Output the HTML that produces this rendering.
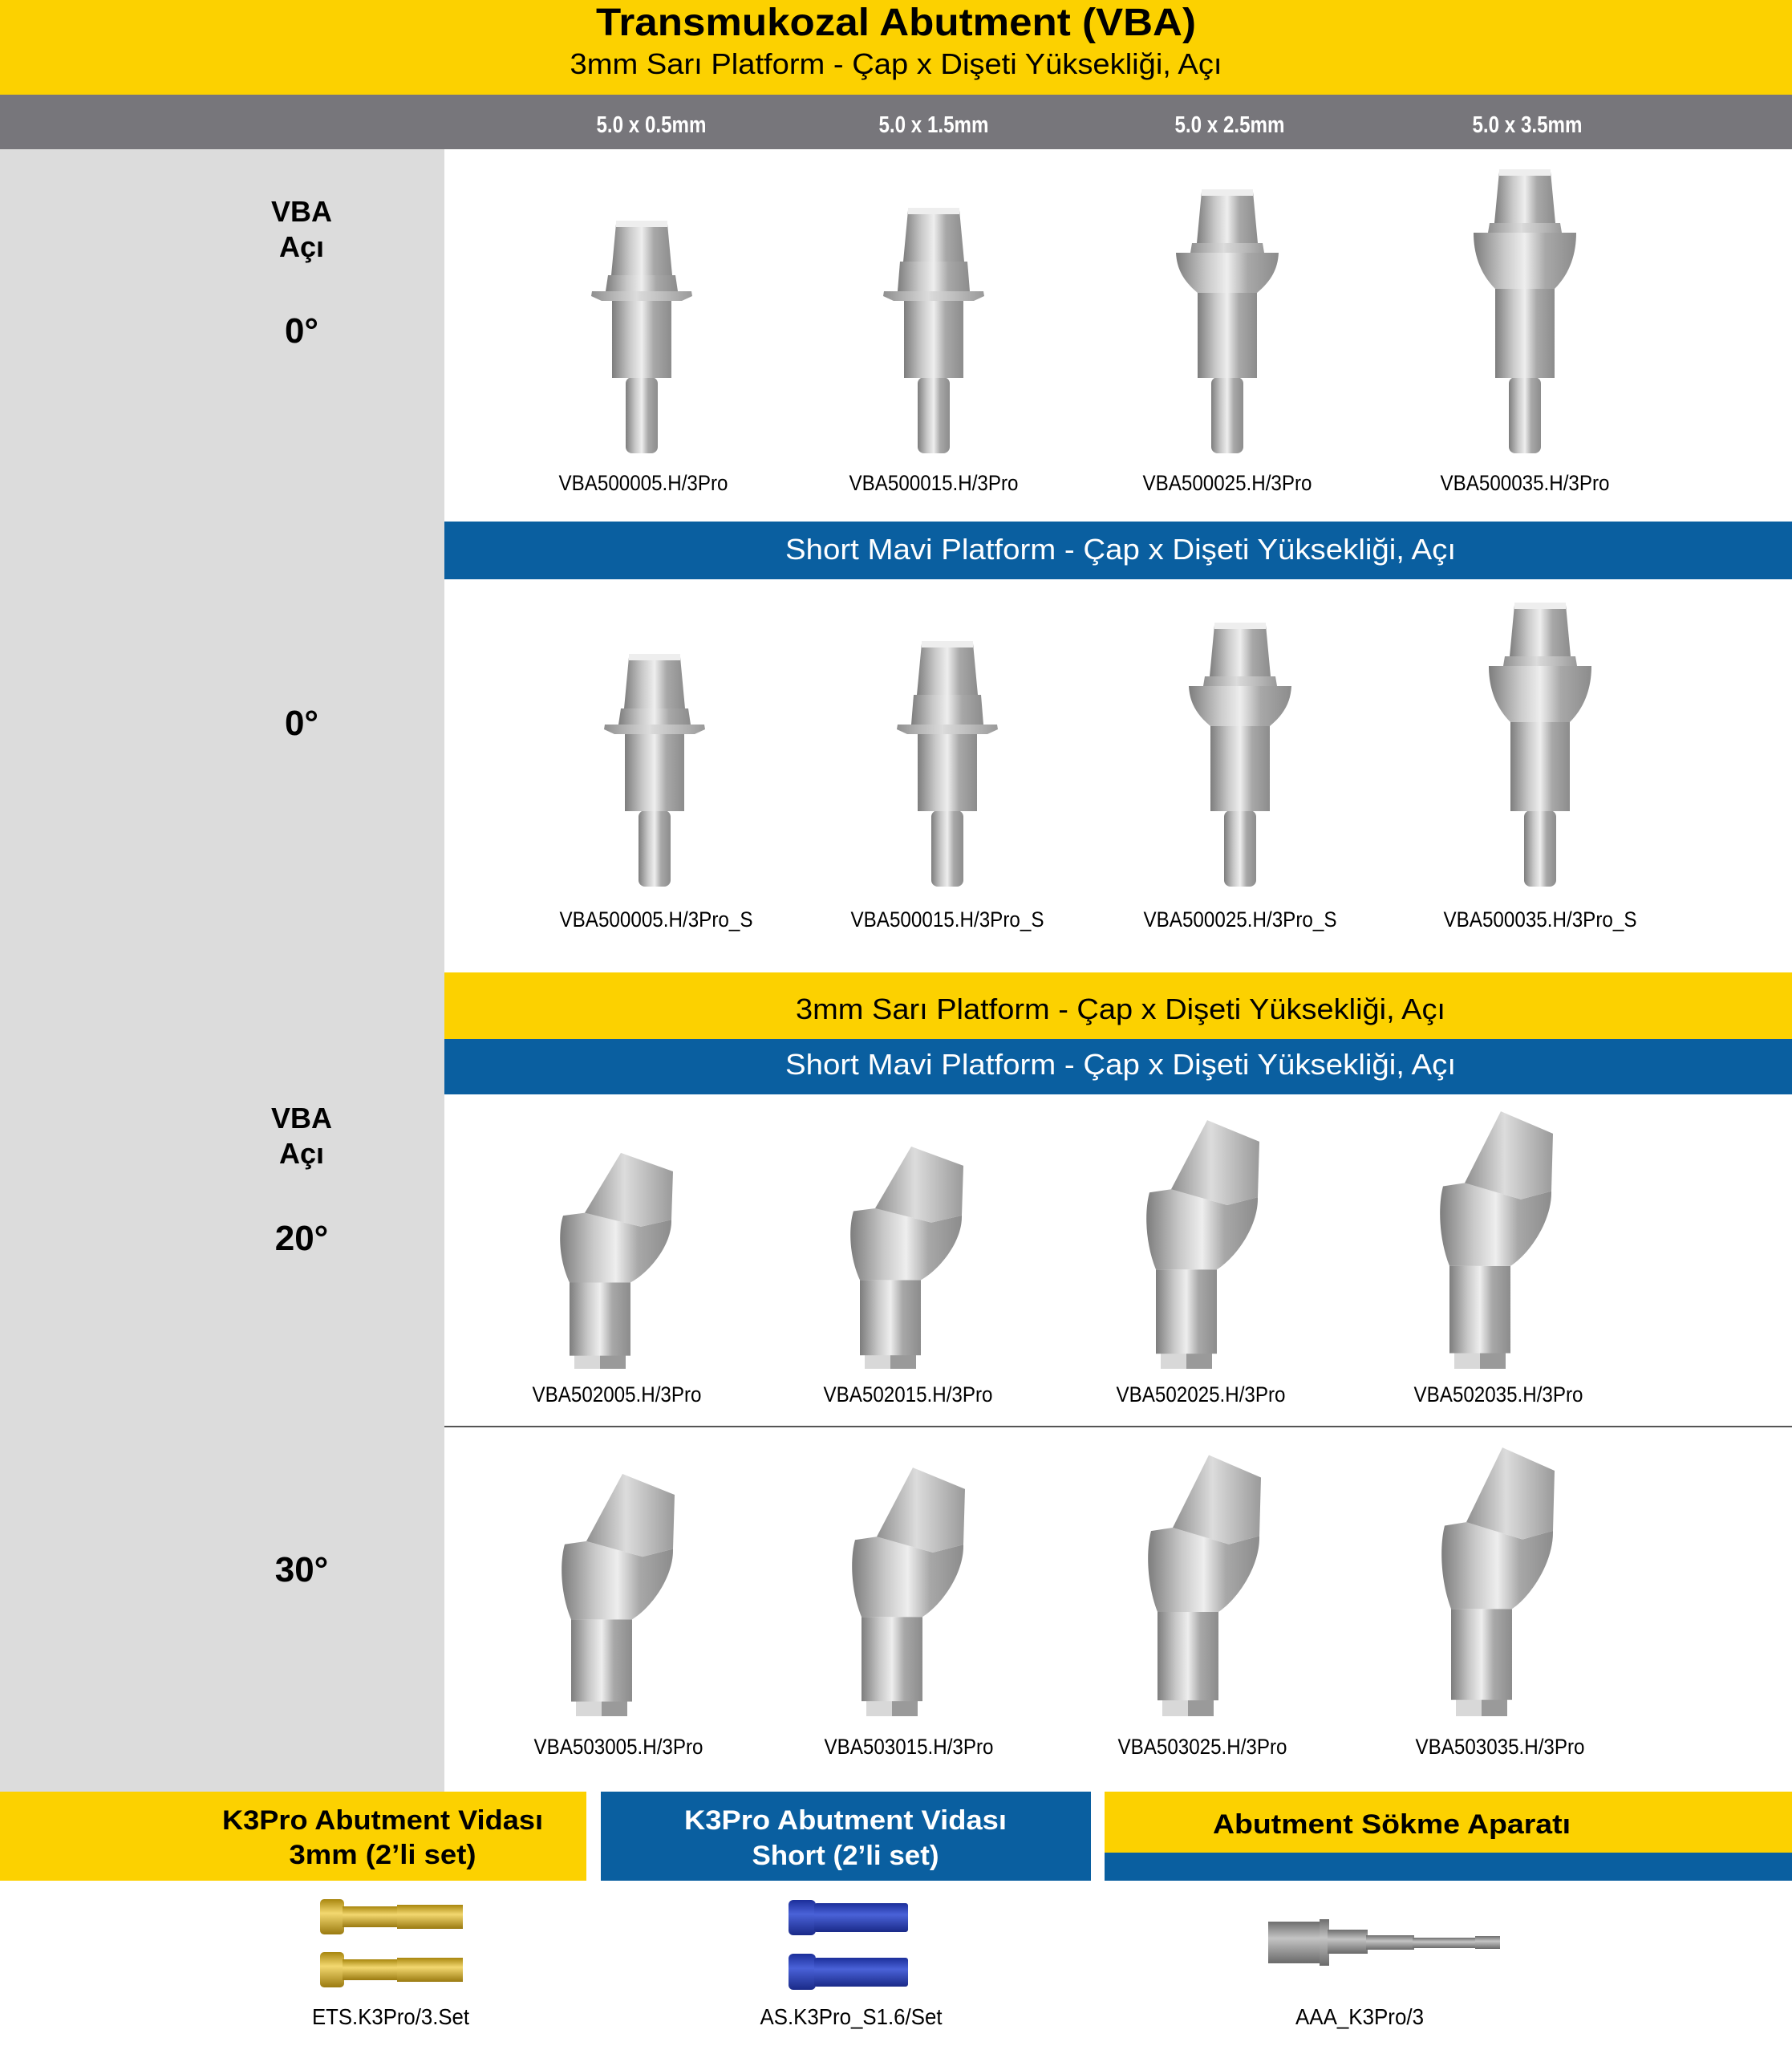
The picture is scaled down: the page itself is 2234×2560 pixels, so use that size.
<!DOCTYPE html>
<html><head><meta charset="utf-8"><style>
html,body{margin:0;padding:0;background:#fff}
svg{display:block}
text{font-family:"Liberation Sans",sans-serif}
.n{font-family:"Liberation Sans Narrow","Liberation Sans",sans-serif}
</style></head><body>
<svg width="2234" height="2560" viewBox="0 0 2234 2560" xmlns="http://www.w3.org/2000/svg">
<defs>
<linearGradient id="m" x1="0" x2="1" y1="0" y2="0">
<stop offset="0" stop-color="#7d7d7d"/><stop offset="0.3" stop-color="#c9c9c9"/><stop offset="0.5" stop-color="#eeeeee"/><stop offset="0.7" stop-color="#a8a8a8"/><stop offset="1" stop-color="#8c8c8c"/>
</linearGradient>
<linearGradient id="m2" x1="0" x2="1" y1="0" y2="0">
<stop offset="0" stop-color="#8f8f8f"/><stop offset="0.45" stop-color="#dcdcdc"/><stop offset="1" stop-color="#9a9a9a"/>
</linearGradient>
<linearGradient id="gold" x1="0" x2="0" y1="0" y2="1">
<stop offset="0" stop-color="#a8860e"/><stop offset="0.4" stop-color="#f3d870"/><stop offset="1" stop-color="#9a7a10"/>
</linearGradient>
<linearGradient id="blu" x1="0" x2="0" y1="0" y2="1">
<stop offset="0" stop-color="#1c2f9a"/><stop offset="0.4" stop-color="#4a62d8"/><stop offset="1" stop-color="#1a2a88"/>
</linearGradient>
<linearGradient id="tool" x1="0" x2="0" y1="0" y2="1">
<stop offset="0" stop-color="#6e6e6e"/><stop offset="0.4" stop-color="#c4c4c4"/><stop offset="1" stop-color="#6a6a6a"/>
</linearGradient>
<!-- straight abutments, origin center-bottom -->
<g id="sA">
<rect x="-20" y="-95" width="40" height="95" rx="8" fill="url(#m)"/>
<rect x="-37" y="-192" width="74" height="98" fill="url(#m)"/>
<polygon points="-50,-190 50,-190 63,-196 62,-202 -62,-202 -63,-196" fill="url(#m2)"/>
<polygon points="-45,-202 45,-202 42,-222 -42,-222" fill="url(#m)"/>
<polygon points="-38,-222 38,-222 32,-286 -32,-286" fill="url(#m)"/>
<rect x="-32" y="-290" width="64" height="8" fill="#eee"/>
</g>
<g id="sB">
<rect x="-20" y="-95" width="40" height="95" rx="8" fill="url(#m)"/>
<rect x="-37" y="-192" width="74" height="98" fill="url(#m)"/>
<polygon points="-50,-190 50,-190 63,-196 62,-202 -62,-202 -63,-196" fill="url(#m2)"/>
<polygon points="-45,-202 45,-202 42,-239 -42,-239" fill="url(#m)"/>
<polygon points="-38,-239 38,-239 32,-303 -32,-303" fill="url(#m)"/>
<rect x="-32" y="-306" width="64" height="8" fill="#eee"/>
</g>
<g id="sC">
<rect x="-20" y="-95" width="40" height="95" rx="8" fill="url(#m)"/>
<rect x="-37" y="-200" width="74" height="106" fill="url(#m)"/>
<path d="M-37,-200 C-55,-215 -63,-230 -64,-250 L64,-250 C63,-230 55,-215 37,-200 Z" fill="url(#m)"/>
<polygon points="-46,-250 46,-250 44,-262 -44,-262" fill="url(#m2)"/>
<polygon points="-38,-262 38,-262 32,-326 -32,-326" fill="url(#m)"/>
<rect x="-32" y="-329" width="64" height="8" fill="#eee"/>
</g>
<g id="sD">
<rect x="-20" y="-95" width="40" height="95" rx="8" fill="url(#m)"/>
<rect x="-37" y="-205" width="74" height="111" fill="url(#m)"/>
<path d="M-37,-205 C-57,-225 -64,-250 -64,-275 L64,-275 C64,-250 57,-225 37,-205 Z" fill="url(#m)"/>
<polygon points="-46,-275 46,-275 44,-287 -44,-287" fill="url(#m2)"/>
<polygon points="-38,-287 38,-287 32,-351 -32,-351" fill="url(#m)"/>
<rect x="-32" y="-354" width="64" height="8" fill="#eee"/>
</g>
<!-- angled abutment, total height 313 -->
<g id="ang">
<rect x="-32" y="-20" width="64" height="20" fill="#d8d8d8"/>
<rect x="0" y="-20" width="32" height="20" fill="#9a9a9a"/>
<rect x="-38" y="-125" width="76" height="106" fill="url(#m)"/>
<path d="M-38,-125 C-52,-160 -52,-200 -46,-222 L-19,-226 L51,-206 L89,-216 C90,-180 62,-140 38,-125 Z" fill="url(#m)"/>
<polygon points="-19,-226 26,-313 91,-286 89,-216 51,-206" fill="url(#m2)"/>
</g>
</defs>

<!-- header -->
<rect x="0" y="0" width="2234" height="118" fill="#fcd100"/>
<text x="1117" y="44" text-anchor="middle" font-size="48" font-weight="bold" textLength="748" lengthAdjust="spacingAndGlyphs">Transmukozal Abutment (VBA)</text>
<text x="1117" y="92" text-anchor="middle" font-size="36" textLength="813" lengthAdjust="spacingAndGlyphs">3mm Sarı Platform - Çap x Dişeti Yüksekliği, Açı</text>
<rect x="0" y="118" width="2234" height="68" fill="#77767b"/>
<g class="n" font-size="29" font-weight="bold" fill="#fff" text-anchor="middle">
<text x="812" y="165" class="n" textLength="137" lengthAdjust="spacingAndGlyphs">5.0 x 0.5mm</text>
<text x="1164" y="165" class="n" textLength="137" lengthAdjust="spacingAndGlyphs">5.0 x 1.5mm</text>
<text x="1533" y="165" class="n" textLength="137" lengthAdjust="spacingAndGlyphs">5.0 x 2.5mm</text>
<text x="1904" y="165" class="n" textLength="137" lengthAdjust="spacingAndGlyphs">5.0 x 3.5mm</text>
</g>

<!-- left column -->
<rect x="0" y="186" width="554" height="2048" fill="#dcdcdc"/>
<g font-weight="bold" text-anchor="middle" font-size="36">
<text x="376" y="276">VBA</text>
<text x="376" y="320">Açı</text>
<text x="376" y="427" font-size="44">0°</text>
<text x="376" y="916" font-size="44">0°</text>
<text x="376" y="1406">VBA</text>
<text x="376" y="1450">Açı</text>
<text x="376" y="1558" font-size="44">20°</text>
<text x="376" y="1971" font-size="44">30°</text>
</g>

<!-- row 1 -->
<use href="#sA" x="800" y="565"/>
<use href="#sB" x="1164" y="565"/>
<use href="#sC" x="1530" y="565"/>
<use href="#sD" x="1901" y="565"/>
<g font-size="27" text-anchor="middle">
<text class="n" x="802" y="611" textLength="211" lengthAdjust="spacingAndGlyphs">VBA500005.H/3Pro</text>
<text class="n" x="1164" y="611" textLength="211" lengthAdjust="spacingAndGlyphs">VBA500015.H/3Pro</text>
<text class="n" x="1530" y="611" textLength="211" lengthAdjust="spacingAndGlyphs">VBA500025.H/3Pro</text>
<text class="n" x="1901" y="611" textLength="211" lengthAdjust="spacingAndGlyphs">VBA500035.H/3Pro</text>
</g>

<rect x="554" y="650" width="1680" height="72" fill="#0a5fa0"/>
<text x="1397" y="697" text-anchor="middle" font-size="36" fill="#fff" textLength="836" lengthAdjust="spacingAndGlyphs">Short Mavi Platform - Çap x Dişeti Yüksekliği, Açı</text>

<!-- row 2 -->
<use href="#sA" x="816" y="1105"/>
<use href="#sB" x="1181" y="1105"/>
<use href="#sC" x="1546" y="1105"/>
<use href="#sD" x="1920" y="1105"/>
<g font-size="27" text-anchor="middle">
<text class="n" x="818" y="1155" textLength="241" lengthAdjust="spacingAndGlyphs">VBA500005.H/3Pro_S</text>
<text class="n" x="1181" y="1155" textLength="241" lengthAdjust="spacingAndGlyphs">VBA500015.H/3Pro_S</text>
<text class="n" x="1546" y="1155" textLength="241" lengthAdjust="spacingAndGlyphs">VBA500025.H/3Pro_S</text>
<text class="n" x="1920" y="1155" textLength="241" lengthAdjust="spacingAndGlyphs">VBA500035.H/3Pro_S</text>
</g>

<rect x="554" y="1212" width="1680" height="83" fill="#fcd100"/>
<text x="1397" y="1270" text-anchor="middle" font-size="36" textLength="810" lengthAdjust="spacingAndGlyphs">3mm Sarı Platform - Çap x Dişeti Yüksekliği, Açı</text>
<rect x="554" y="1295" width="1680" height="69" fill="#0a5fa0"/>
<text x="1397" y="1339" text-anchor="middle" font-size="36" fill="#fff" textLength="836" lengthAdjust="spacingAndGlyphs">Short Mavi Platform - Çap x Dişeti Yüksekliği, Açı</text>

<!-- row 3 -->
<g transform="translate(748,1706) scale(1,0.86)"><use href="#ang"/></g>
<g transform="translate(1110,1706) scale(1,0.885)"><use href="#ang"/></g>
<g transform="translate(1479,1706) scale(1,0.99)"><use href="#ang"/></g>
<g transform="translate(1845,1706) scale(1,1.025)"><use href="#ang"/></g>
<g font-size="27" text-anchor="middle">
<text class="n" x="769" y="1747" textLength="211" lengthAdjust="spacingAndGlyphs">VBA502005.H/3Pro</text>
<text class="n" x="1132" y="1747" textLength="211" lengthAdjust="spacingAndGlyphs">VBA502015.H/3Pro</text>
<text class="n" x="1497" y="1747" textLength="211" lengthAdjust="spacingAndGlyphs">VBA502025.H/3Pro</text>
<text class="n" x="1868" y="1747" textLength="211" lengthAdjust="spacingAndGlyphs">VBA502035.H/3Pro</text>
</g>
<rect x="554" y="1777" width="1680" height="2" fill="#555"/>

<!-- row 4 -->
<g transform="translate(750,2139) scale(1,0.965)"><use href="#ang"/></g>
<g transform="translate(1112,2139) scale(1,0.99)"><use href="#ang"/></g>
<g transform="translate(1481,2139) scale(1,1.04)"><use href="#ang"/></g>
<g transform="translate(1847,2139) scale(1,1.07)"><use href="#ang"/></g>
<g font-size="27" text-anchor="middle">
<text class="n" x="771" y="2186" textLength="211" lengthAdjust="spacingAndGlyphs">VBA503005.H/3Pro</text>
<text class="n" x="1133" y="2186" textLength="211" lengthAdjust="spacingAndGlyphs">VBA503015.H/3Pro</text>
<text class="n" x="1499" y="2186" textLength="211" lengthAdjust="spacingAndGlyphs">VBA503025.H/3Pro</text>
<text class="n" x="1870" y="2186" textLength="211" lengthAdjust="spacingAndGlyphs">VBA503035.H/3Pro</text>
</g>

<!-- bottom bands -->
<rect x="0" y="2233" width="731" height="111" fill="#fcd100"/>
<rect x="749" y="2233" width="611" height="111" fill="#0a5fa0"/>
<rect x="1377" y="2233" width="857" height="76" fill="#fcd100"/>
<rect x="1377" y="2309" width="857" height="35" fill="#0a5fa0"/>
<g font-weight="bold" font-size="34" text-anchor="middle">
<text x="477" y="2280" textLength="400" lengthAdjust="spacingAndGlyphs">K3Pro Abutment Vidası</text>
<text x="477" y="2323" textLength="233" lengthAdjust="spacingAndGlyphs">3mm (2’li set)</text>
<text x="1054" y="2280" fill="#fff" textLength="402" lengthAdjust="spacingAndGlyphs">K3Pro Abutment Vidası</text>
<text x="1054" y="2324" fill="#fff" textLength="233" lengthAdjust="spacingAndGlyphs">Short (2’li set)</text>
<text x="1735" y="2285" textLength="446" lengthAdjust="spacingAndGlyphs">Abutment Sökme Aparatı</text>
</g>

<!-- screws -->
<g>
<rect x="399" y="2367" width="30" height="44" rx="5" fill="url(#gold)"/>
<rect x="427" y="2376" width="70" height="26" fill="url(#gold)"/>
<rect x="495" y="2374" width="82" height="30" fill="url(#gold)"/>
<rect x="399" y="2433" width="30" height="44" rx="5" fill="url(#gold)"/>
<rect x="427" y="2442" width="70" height="26" fill="url(#gold)"/>
<rect x="495" y="2440" width="82" height="30" fill="url(#gold)"/>
<rect x="983" y="2368" width="34" height="44" rx="6" fill="url(#blu)"/>
<rect x="1015" y="2372" width="117" height="36" rx="3" fill="url(#blu)"/>
<rect x="983" y="2435" width="34" height="45" rx="6" fill="url(#blu)"/>
<rect x="1015" y="2440" width="117" height="36" rx="3" fill="url(#blu)"/>
<rect x="1581" y="2395" width="70" height="52" fill="url(#tool)"/>
<rect x="1645" y="2392" width="12" height="58" fill="url(#tool)"/>
<rect x="1655" y="2405" width="50" height="30" fill="url(#tool)"/>
<rect x="1703" y="2412" width="60" height="18" fill="url(#tool)"/>
<rect x="1761" y="2415" width="80" height="13" fill="url(#tool)"/>
<rect x="1839" y="2413" width="31" height="16" fill="url(#tool)"/>
</g>
<g font-size="28" text-anchor="middle">
<text class="n" x="487" y="2523" textLength="196" lengthAdjust="spacingAndGlyphs">ETS.K3Pro/3.Set</text>
<text class="n" x="1061" y="2523" textLength="227" lengthAdjust="spacingAndGlyphs">AS.K3Pro_S1.6/Set</text>
<text class="n" x="1695" y="2523" textLength="160" lengthAdjust="spacingAndGlyphs">AAA_K3Pro/3</text>
</g>
</svg>
</body></html>
